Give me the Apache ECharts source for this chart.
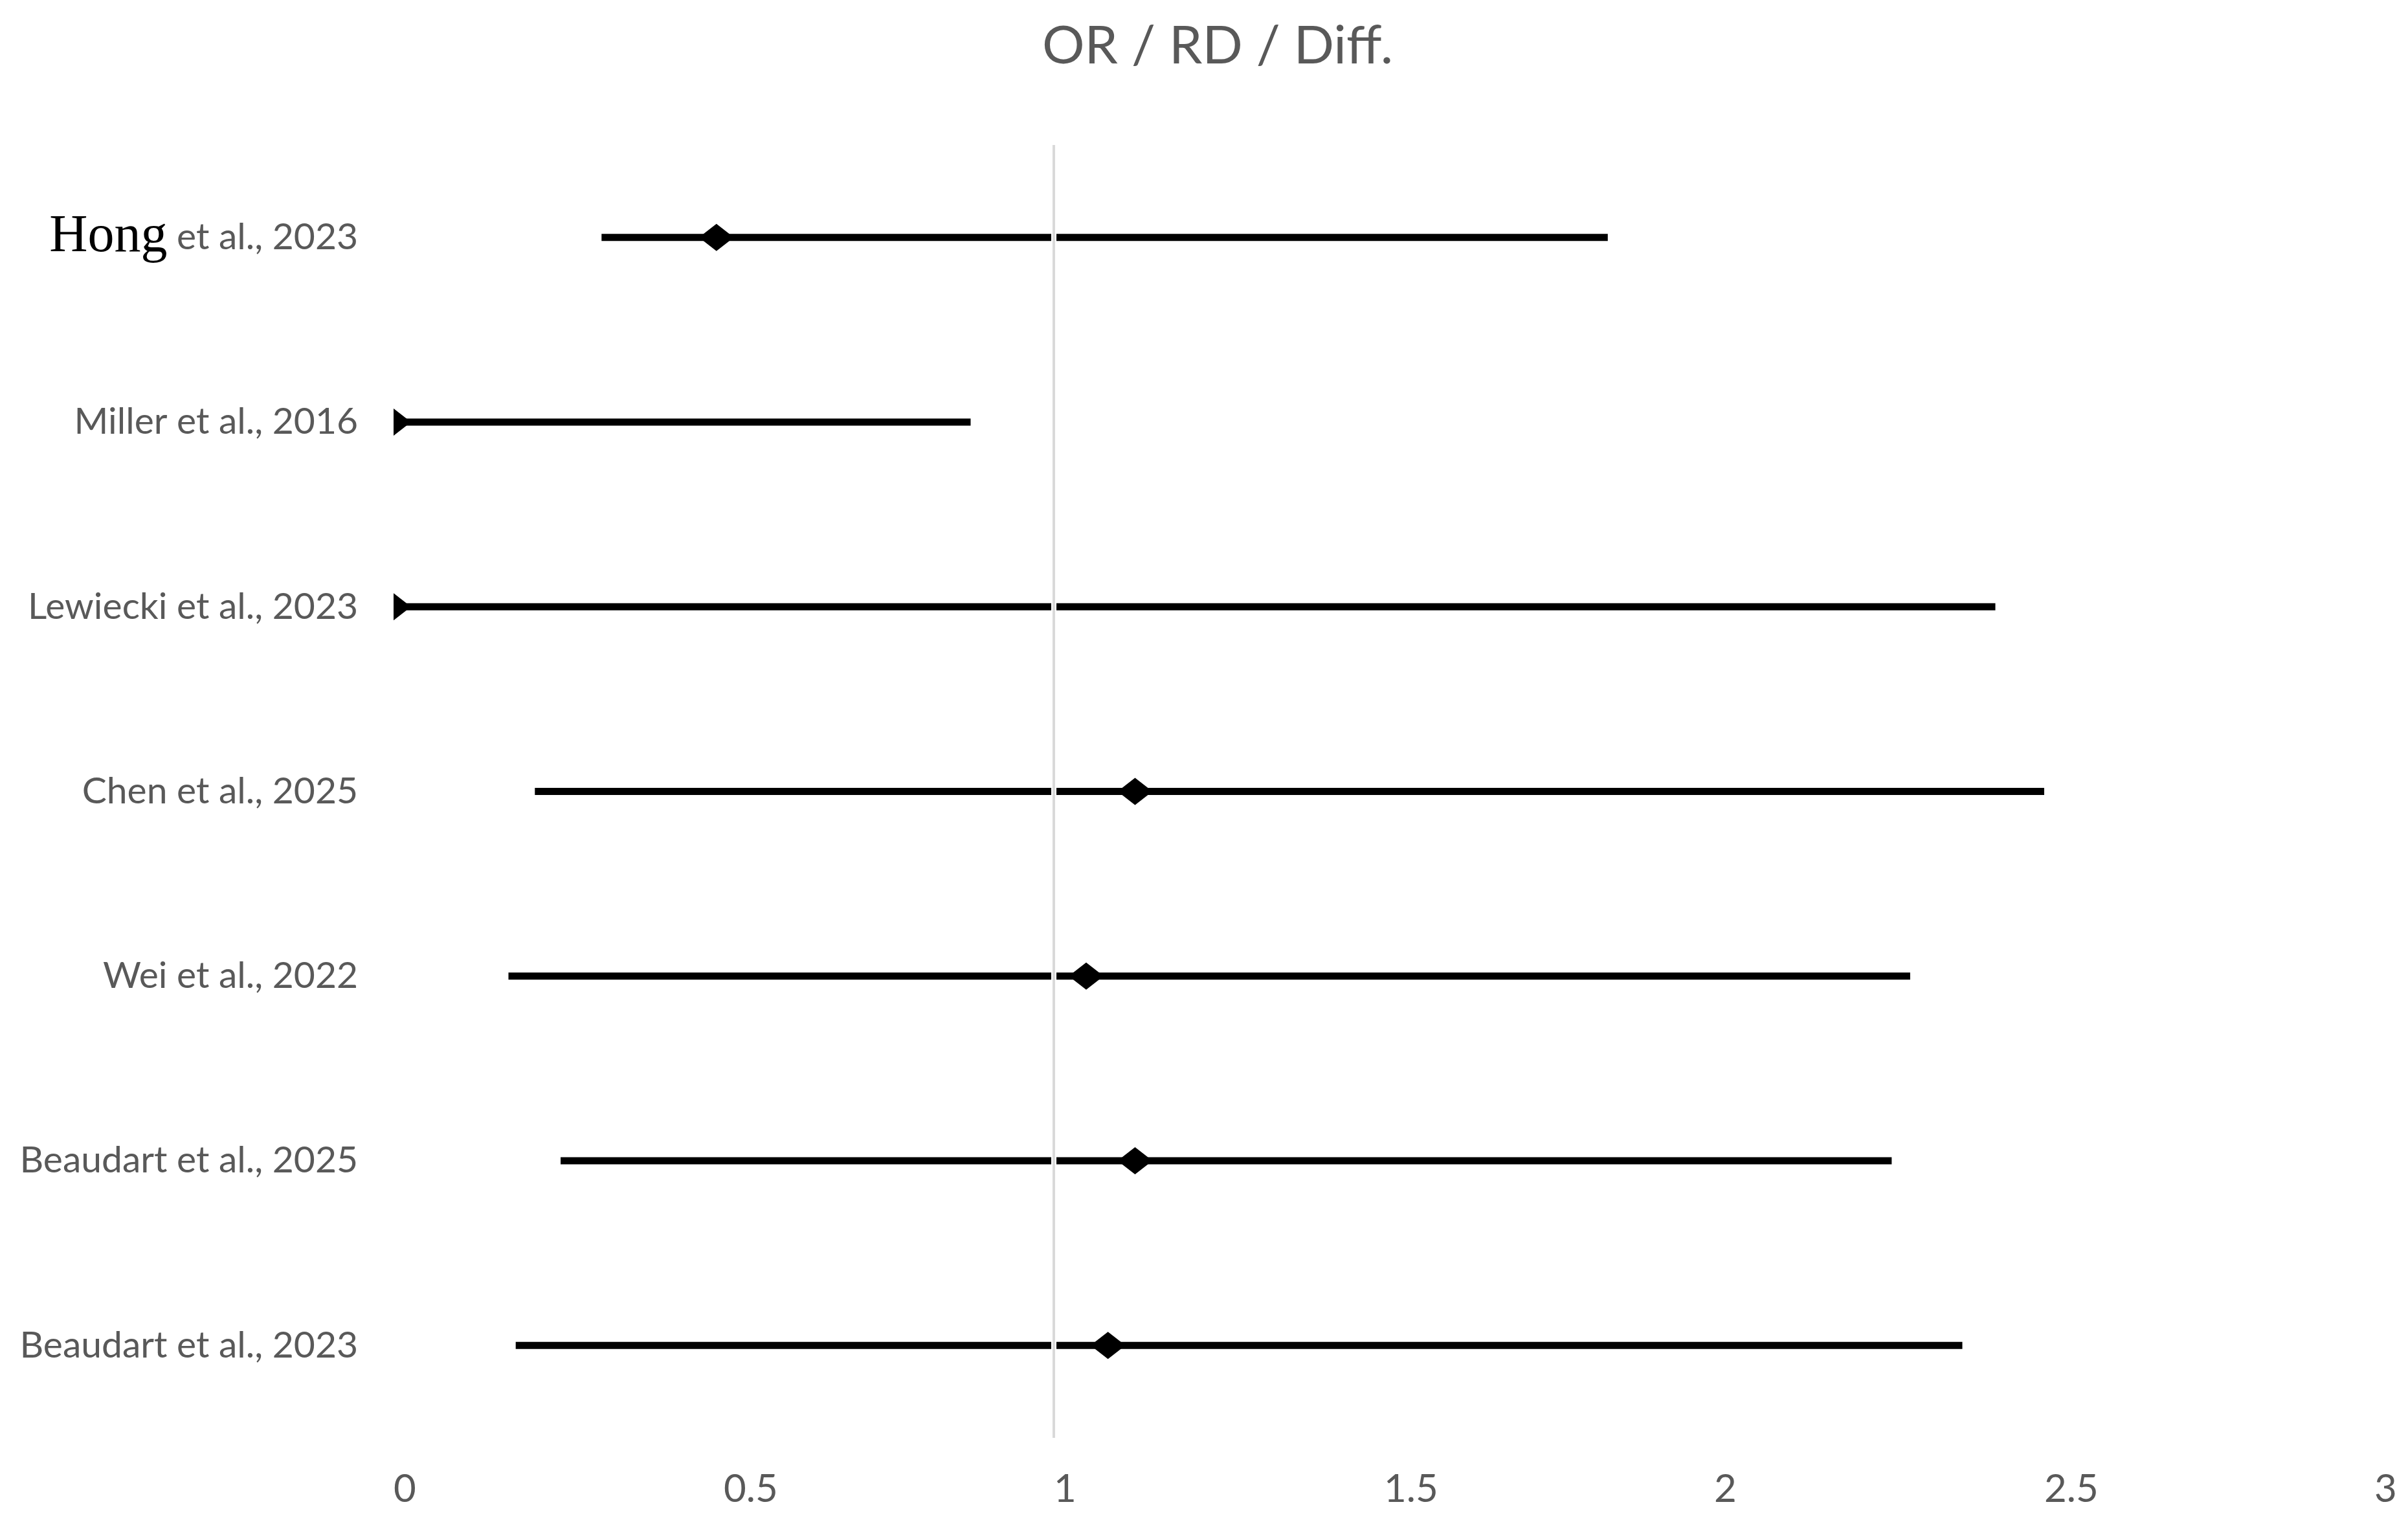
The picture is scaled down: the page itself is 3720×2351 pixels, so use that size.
<!DOCTYPE html>
<html>
<head>
<meta charset="utf-8">
<script src="https://cdn.jsdelivr.net/npm/echarts@6/dist/echarts.min.js"></script>
<style>
  html, body { margin: 0; padding: 0; background: #fff; }
  #main { width: 3720px; height: 2351px; }
</style>
</head>
<body>
<div id="main"></div>
<script>
var studies = ['Hong et al., 2023', 'Miller et al., 2016', 'Lewiecki et al., 2023', 'Chen et al., 2025',
  'Wei et al., 2022', 'Beaudart et al., 2025', 'Beaudart et al., 2023'];
var lower = [0.315, 0, 0, 0.214, 0.174, 0.253, 0.185];
var estimate = [0.489, 0, 0, 1.123, 1.049, 1.123, 1.082];
var upper = [1.839, 0.874, 2.426, 2.5, 2.297, 2.269, 2.376];
var refValue = 1;
var xMin = 0, xMax = 3, xStep = 0.5;

var myChart = echarts.init(document.getElementById('main'));

var forestData = studies.map(function (s, i) {
  return [i, lower[i], estimate[i], upper[i]];
});

var option = {
  backgroundColor: '#ffffff',
  animation: false,
  title: {
    text: 'OR / RD / Diff.',
    left: 1876,
    top: 26,
    textAlign: 'center',
    textStyle: {
      fontFamily: 'Lato',
      fontWeight: 'normal',
      fontSize: 82,
      color: '#595959'
    }
  },
  grid: {
    left: 608,
    right: 3720 - 3668,
    top: 224,
    bottom: 2351 - 2221
  },
  xAxis: {
    type: 'value',
    min: xMin,
    max: xMax,
    interval: xStep,
    axisLine: { show: false },
    axisTick: { show: false },
    splitLine: { show: false },
    axisLabel: {
      align: 'left',
      margin: 50,
      fontFamily: 'Lato',
      fontSize: 60,
      color: '#595959'
    }
  },
  yAxis: {
    type: 'category',
    inverse: true,
    data: studies,
    axisLine: { show: false },
    axisTick: { show: false },
    splitLine: { show: false },
    axisLabel: {
      margin: 55,
      fontFamily: 'Lato',
      fontSize: 57,
      color: '#595959',
      formatter: function (v) {
        if (v.indexOf('Hong') === 0) {
          return '{h|Hong}{r|' + v.slice(4) + '}';
        }
        return v;
      },
      rich: {
        h: {
          fontFamily: 'Liberation Serif',
          fontSize: 82,
          color: '#000000',
          verticalAlign: 'middle'
        },
        r: {
          fontFamily: 'Lato',
          fontSize: 57,
          color: '#595959',
          verticalAlign: 'middle'
        }
      }
    }
  },
  series: [
    {
      name: 'CI',
      type: 'custom',
      clip: true,
      z: 2,
      encode: { x: [1, 2, 3], y: 0 },
      data: forestData,
      renderItem: function (params, api) {
        var cat = api.value(0);
        var p1 = api.coord([api.value(1), cat]);
        var pm = api.coord([api.value(2), cat]);
        var p2 = api.coord([api.value(3), cat]);
        var hw = 27, hh = 21;
        return {
          type: 'group',
          children: [
            {
              type: 'line',
              shape: { x1: p1[0], y1: p1[1], x2: p2[0], y2: p2[1] },
              style: { stroke: '#000', lineWidth: 11 }
            },
            {
              type: 'polygon',
              shape: {
                points: [[pm[0] - hw, pm[1]], [pm[0], pm[1] - hh], [pm[0] + hw, pm[1]], [pm[0], pm[1] + hh]]
              },
              style: { fill: '#000' }
            }
          ]
        };
      }
    },
    {
      name: 'ref',
      type: 'line',
      z: 5,
      data: [],
      markLine: {
        silent: true,
        symbol: 'none',
        label: { show: false },
        data: [
          { xAxis: refValue, lineStyle: { color: '#ffffff', width: 8, type: 'solid' } },
          { xAxis: refValue, lineStyle: { color: '#d9d9d9', width: 4, type: 'solid' } }
        ]
      }
    }
  ]
};

myChart.setOption(option);
</script>
</body>
</html>
